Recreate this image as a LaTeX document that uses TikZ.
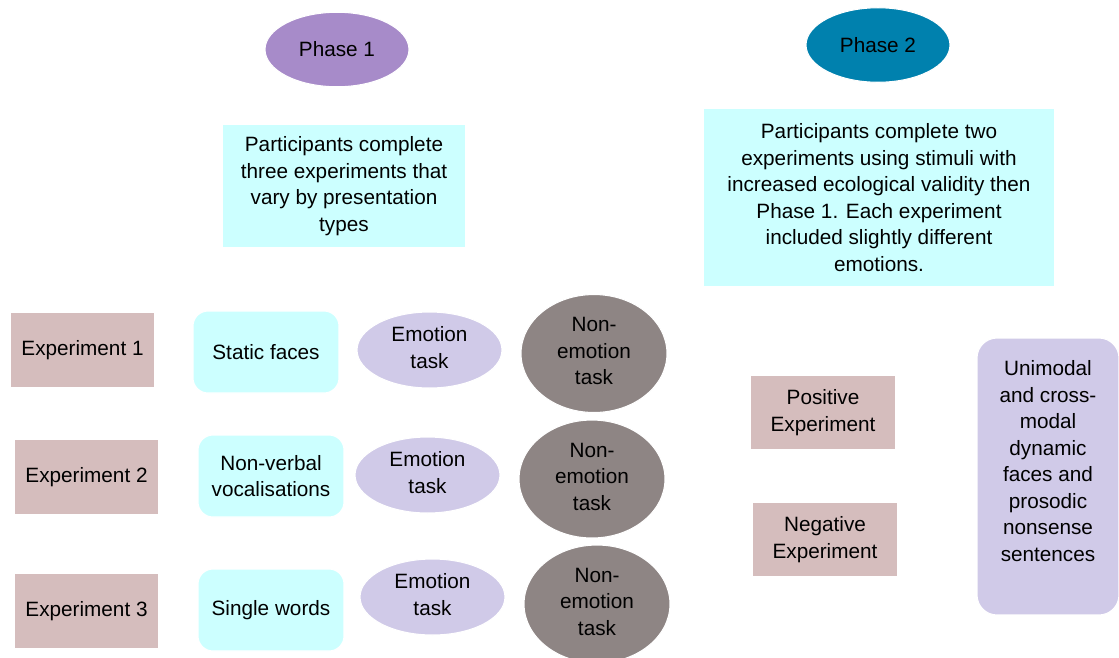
\documentclass[tikz,border=0pt]{standalone}
\usepackage{fontspec}
\setmainfont{Liberation Sans}
\usetikzlibrary{shapes.geometric}
\definecolor{phaseone}{RGB}{167,139,201}
\definecolor{phasetwo}{RGB}{0,129,174}
\definecolor{paleaqua}{RGB}{204,255,255}
\definecolor{dustyrose}{RGB}{213,189,189}
\definecolor{lilac}{RGB}{208,202,232}
\definecolor{taupe}{RGB}{142,133,132}
\begin{document}
\begin{tikzpicture}[x=0.02cm, y=-0.02cm,
    every node/.style={font=\fontsize{11.8}{15.1}\selectfont, align=center, inner sep=0pt, draw=white, line width=0.6pt},
    phase/.style={ellipse, minimum width=2.88cm, minimum height=1.49cm},
    infobox/.style={fill=paleaqua, rectangle},
    expbox/.style={fill=dustyrose, rectangle, minimum width=2.9cm, minimum height=1.49cm},
    stimbox/.style={fill=paleaqua, rounded corners=0.3cm, minimum width=2.92cm, minimum height=1.64cm},
    emotask/.style={ellipse, fill=lilac, minimum width=2.9cm, minimum height=1.52cm, text depth=0.1cm},
    nonemotask/.style={ellipse, fill=taupe, minimum width=2.92cm, minimum height=2.36cm, text depth=0.1cm}]
    \useasboundingbox (0,0) rectangle (1119,657);

    % phase headings
    \node[phase, fill=phaseone] (phaseA) at (337,49.5) {Phase 1};
    \node[phase, fill=phasetwo] (phaseB) at (878,45) {Phase 2};

    \node[infobox, minimum width=4.88cm, minimum height=2.48cm] (descA) at (344,186)
        {Participants complete\\three experiments that\\vary by presentation\\types};
    \node[infobox, minimum width=7.04cm, minimum height=3.58cm] (descB) at (879,197.5)
        {Participants complete two\\experiments using stimuli with\\increased ecological validity then\\Phase 1. Each experiment\\included slightly different\\emotions.};

    % phase 1 rows
    \node[expbox] (expA) at (82.5,350) {Experiment 1};
    \node[expbox] (expB) at (86.5,477) {Experiment 2};
    \node[expbox] (expC) at (86.5,611) {Experiment 3};

    \node[stimbox] (stimA) at (266,352) {Static faces};
    \node[stimbox] (stimB) at (271,476) {Non-verbal\\vocalisations};
    \node[stimbox] (stimC) at (271,610) {Single words};

    \node[emotask] (emoA) at (429.5,350) {Emotion\\task};
    \node[emotask] (emoB) at (427.5,475) {Emotion\\task};
    \node[emotask] (emoC) at (432.5,597) {Emotion\\task};

    \node[nonemotask] (nonA) at (594,353.5) {Non-\\emotion\\task};
    \node[nonemotask] (nonB) at (592,479) {Non-\\emotion\\task};
    \node[nonemotask] (nonC) at (597,604) {Non-\\emotion\\task};

    % phase 2
    \node[expbox, minimum width=2.92cm] (posExp) at (823,412.5) {Positive\\Experiment};
    \node[expbox, minimum width=2.92cm] (negExp) at (825,539.5) {Negative\\Experiment};
    \node[fill=lilac, rounded corners=0.4cm, minimum width=2.84cm, minimum height=5.54cm, text depth=0.62cm] (stimD) at (1048,476.5)
        {Unimodal\\and cross-\\modal\\dynamic\\faces and\\prosodic\\nonsense\\sentences};
\end{tikzpicture}
\end{document}
